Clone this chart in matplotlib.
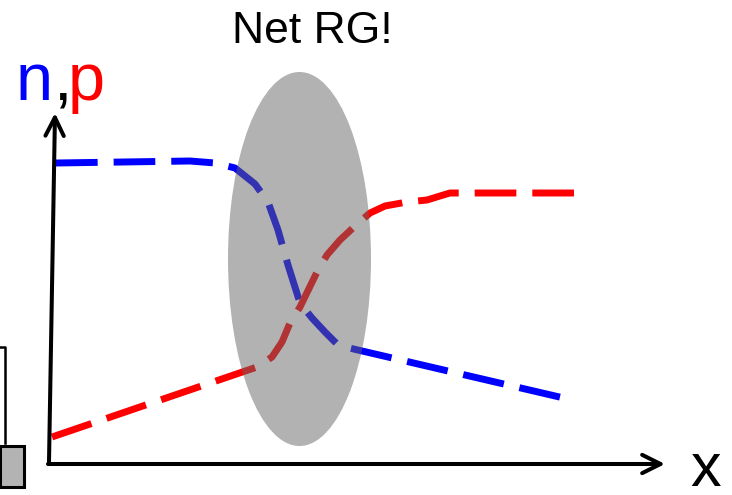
import matplotlib
matplotlib.use("Agg")
import matplotlib.pyplot as plt
from matplotlib.patches import Ellipse, Rectangle, FancyArrowPatch

plt.rcParams['font.family'] = ['Liberation Sans', 'DejaVu Sans']

# Electron (n) and hole (p) concentration profiles along x (canvas units, y grows downward)
n_x = [56, 190, 215, 235, 255, 268, 278, 288, 300, 312, 325, 337, 345, 568]
n_y = [163, 161, 163, 168, 184, 202, 230, 265, 303, 318, 332, 344, 347, 399]

p_x = [52, 257, 272, 282, 290, 300, 318, 327, 340, 355, 370, 385, 407, 427, 440, 450, 465, 583]
p_y = [437, 367, 357, 342, 323, 307, 270, 255, 240, 226, 213, 206, 202, 200, 196, 193, 193, 193]

title_text = "Net RG!"
x_label = "x"

W, H = 732, 495
fig = plt.figure(figsize=(W / 100, H / 100), dpi=100)
ax = fig.add_axes([0, 0, 1, 1])
ax.set_xlim(0, W)
ax.set_ylim(H, 0)
ax.axis('off')

dash = (0, (6, 2.3))
ax.plot(n_x, n_y, color='#0000ff', lw=5, linestyle=dash, dash_capstyle='butt', zorder=2)
ax.plot(p_x, p_y, color='#ff0000', lw=5, linestyle=dash, dash_capstyle='butt', zorder=2)

# Recombination-generation region, translucent over the curves
ax.add_patch(Ellipse((299.5, 259), 143, 374, facecolor=(0.4, 0.4, 0.4), alpha=0.5,
                     edgecolor='none', zorder=3))

# Axes arrows
arrow_kw = dict(arrowstyle='->,head_length=1.1,head_width=0.55', color='black', lw=2.9,
                mutation_scale=12, shrinkA=0, shrinkB=0, zorder=4)
ax.add_patch(FancyArrowPatch((49, 462), (55, 113), **arrow_kw))
ax.add_patch(FancyArrowPatch((48, 464), (665, 464), **arrow_kw))

# Partial device sketch at the left edge
ax.plot([0, 5, 5], [347, 347, 443], color='black', lw=1.8, zorder=4)
ax.add_patch(Rectangle((0, 446), 24, 41, facecolor='#b3b3b3', edgecolor='black', lw=2.2, zorder=4))

# Labels
ax.text(312, 43, title_text, fontsize=32, ha='center', va='baseline', color='black')
ax.text(706, 486, x_label, fontsize=44, ha='center', va='baseline', color='black')
ax.text(16, 100, "n", fontsize=48, ha='left', va='baseline', color='#0000ff')
ax.text(53, 100, ",", fontsize=48, ha='left', va='baseline', color='black')
ax.text(68, 100, "p", fontsize=48, ha='left', va='baseline', color='#ff0000')

fig.savefig("out.png", dpi=100)
